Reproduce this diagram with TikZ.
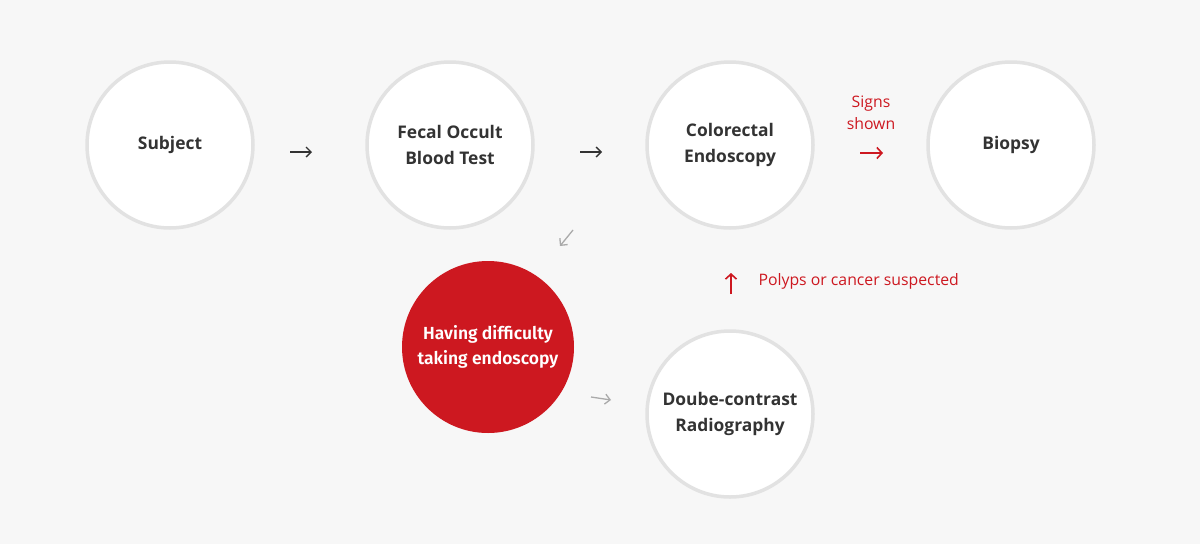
\documentclass[tikz,border=0pt]{standalone}
\usepackage{fontspec}
\setmainfont{Open Sans}
\newfontfamily\firab{Fira Sans}[UprightFont=* SemiBold]
\usetikzlibrary{arrows.meta}
\definecolor{bg}{HTML}{F7F7F7}
\definecolor{ring}{HTML}{E2E2E2}
\definecolor{txt}{HTML}{333333}
\definecolor{myred}{HTML}{CD1820}
\definecolor{lightarr}{HTML}{AAAAAA}
\begin{document}
\begin{tikzpicture}[x=1pt,y=-1pt,
  stage/.style={circle,draw=ring,line width=3.5pt,fill=white,minimum size=166pt,
    inner sep=0pt,align=center,text=txt,font=\bfseries\fontsize{17.4}{26}\selectfont},
  hot/.style={circle,fill=myred,minimum size=172pt,inner sep=0pt,align=center,
    text=white,font=\firab\fontsize{17.5}{25}\selectfont},
  note/.style={text=myred,align=center,font=\fontsize{15.8}{22}\selectfont},
  darr/.style={draw=txt,line width=1.4pt,-{Straight Barb[length=5pt,width=10pt]}},
  larr/.style={draw=lightarr,line width=1.3pt,-{Straight Barb[length=5pt,width=10pt]}},
  rarr/.style={draw=myred,line width=1.6pt,-{Straight Barb[length=5pt,width=11pt]}}]
\fill[bg] (0,0) rectangle (1200,544);
\useasboundingbox (0,0) rectangle (1200,544);
\node[stage] (subj) at (170,145) {Subject};
\node[stage] (fobt) at (450,145) {Fecal Occult\\Blood Test};
\node[stage] (endo) at (730,145) {Colorectal\\Endoscopy};
\node[stage] (biop) at (1011,145) {Biopsy};
\node[hot] (diff) at (488,347) {Having difficulty\\taking endoscopy};
\node[stage] (radio) at (730,414) {Doube-contrast\\Radiography};
% arrows
\coordinate (a1s) at (290,152); \coordinate (a1e) at (312,152);
\draw[darr] (a1s) -- (a1e);
\coordinate (a2s) at (580,152); \coordinate (a2e) at (602,152);
\draw[darr] (a2s) -- (a2e);
\coordinate (a3s) at (860,153); \coordinate (a3e) at (883,153);
\draw[rarr] (a3s) -- (a3e);
\node[note] (signs) at (871,113) {Signs\\shown};
\coordinate (a4s) at (573,230); \coordinate (a4e) at (560,246);
\draw[larr] (a4s) -- (a4e);
\coordinate (a5s) at (591,397); \coordinate (a5e) at (611,400);
\draw[larr] (a5s) -- (a5e);
\coordinate (a6s) at (731,294); \coordinate (a6e) at (731,273);
\draw[rarr] (a6s) -- (a6e);
\node[note,anchor=west] (poly) at (755,281) {Polyps or cancer suspected};
\end{tikzpicture}
\end{document}
